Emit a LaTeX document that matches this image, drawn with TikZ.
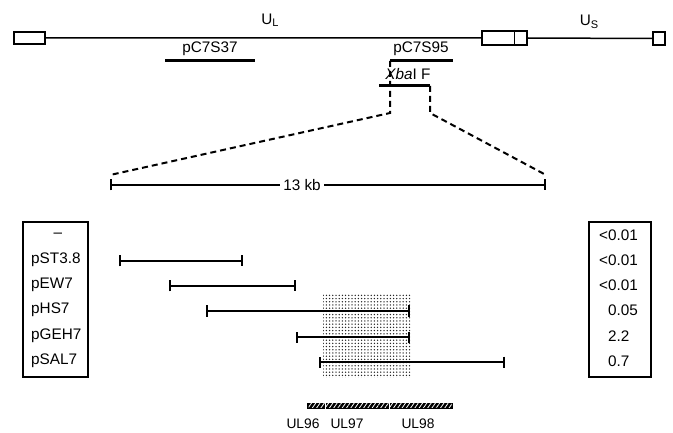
\documentclass[tikz,border=0pt]{standalone}
\usepackage{fontspec}
\setmainfont{Liberation Sans}
\usetikzlibrary{arrows.meta,calc,patterns.meta}

\tikzset{
  exonbox/.style={draw, line width=1.3pt, inner sep=0pt, fill=white},
  probebar/.style={line width=3pt},
  clonebar/.style={line width=2pt, {Bar[width=11pt,line width=2pt]}-{Bar[width=11pt,line width=2pt]}},
  zoomline/.style={line width=2pt, dash pattern=on 6pt off 4pt},
  genelabel/.style={font=\fontsize{13.8}{15}\selectfont},
}
\newcommand{\subtxt}[1]{\raisebox{-0.3ex}{\fontsize{11}{12}\selectfont #1}}

\begin{document}
\begin{tikzpicture}[x=1pt, y=-1pt, every node/.style={font=\fontsize{15.3}{17}\selectfont, inner sep=1pt}, line cap=butt]
  \useasboundingbox (0,0) rectangle (673,433);

  % genome map
  \node[exonbox, minimum width=31, minimum height=12] (trl) at (29.5,38) {};
  \node[exonbox, minimum width=45, minimum height=14] (irs) at (504.5,38) {};
  \node[exonbox, minimum width=12, minimum height=13] (trs) at (659,38.5) {};
  \draw[line width=1.5pt] (trl.east) -- (irs.west) (irs.east) -- (trs.west);
  \draw[line width=1.3pt] ($(irs.north west)+(33,0)$) -- ($(irs.south west)+(33,0)$);
  \node (ul) at (270,20) {U\subtxt{L}};
  \node (us) at (589,22) {U\subtxt{S}};

  % probes
  \coordinate (p37a) at (165,61);
  \coordinate (p37b) at (255,61);
  \coordinate (p95a) at (390,61);
  \coordinate (p95b) at (453,61);
  \draw[probebar] (p37a) -- (p37b);
  \draw[probebar] (p95a) -- (p95b);
  \node (l37) at (210,49) {pC7S37};
  \node (l95) at (421,49) {pC7S95};

  \coordinate (xba) at (379,86);
  \coordinate (xbb) at (430,86);
  \draw[probebar] (xba) -- (xbb);
  \node (lxb) at (408,74) {\textit{Xba}I F};

  % scale
  \coordinate (s0) at (110,185);
  \coordinate (s1) at (546,185);
  \coordinate (z0) at (390,113);
  \coordinate (z1) at (430,113);
  \draw[zoomline] (p95a) -- (z0) -- ($(s0)+(0,-10)$);
  \draw[zoomline] (xbb) -- (z1) -- ($(s1)+(0,-10)$);
  \draw[clonebar, line width=1.5pt] (s0) -- (s1);
  \node[fill=white, inner sep=3pt] (kb) at (302,185) {13 kb};

  % overlap region
  \fill[pattern={Dots[radius=0.75pt,distance=3.2pt]}, pattern color=black!85] (323,295) rectangle (410,377);

  % clones and values
  \node[draw, line width=1.3pt, minimum width=65, minimum height=155, inner sep=0pt] (cbox) at (55.5,299.5) {};
  \node[draw, line width=1.3pt, minimum width=62, minimum height=155, inner sep=0pt] (vbox) at (620,299.5) {};
  \node (lab0) at (58,235) {--};
  \node[anchor=west] (val0) at (598,235) {<0.01};
  \foreach \i/\lab/\xa/\xb/\y/\val/\vx in {1/pST3.8/119/243/261/{<0.01}/598,2/pEW7/169/296/286/{<0.01}/598,3/pHS7/206/410/311/0.05/607,4/pGEH7/296/410/337/2.2/607,5/pSAL7/319/505/362/0.7/607}
  {
    \node[anchor=west] (lab\i) at (30,\y-1) {\lab};
    \node[anchor=west] (val\i) at (\vx,\y-1) {\val};
    \coordinate (c\i a) at (\xa,\y);
    \coordinate (c\i b) at (\xb,\y);
    \draw[clonebar] (c\i a) -- (c\i b);
  }

  % genes
  \fill[black] (307,402.5) rectangle (453,408.5);
  \fill[pattern={Lines[angle=55,distance=3.5pt,line width=0.8pt]}, pattern color=white] (308.5,403.5) rectangle (451.5,407.5);
  \draw[white, line width=1pt] (325,402.5) -- (325,408.5) (389,402.5) -- (389,408.5);
  \node[genelabel] (ul96) at (303,424) {UL96};
  \node[genelabel] (ul97) at (347,424) {UL97};
  \node[genelabel] (ul98) at (418,424) {UL98};
\end{tikzpicture}
\end{document}
